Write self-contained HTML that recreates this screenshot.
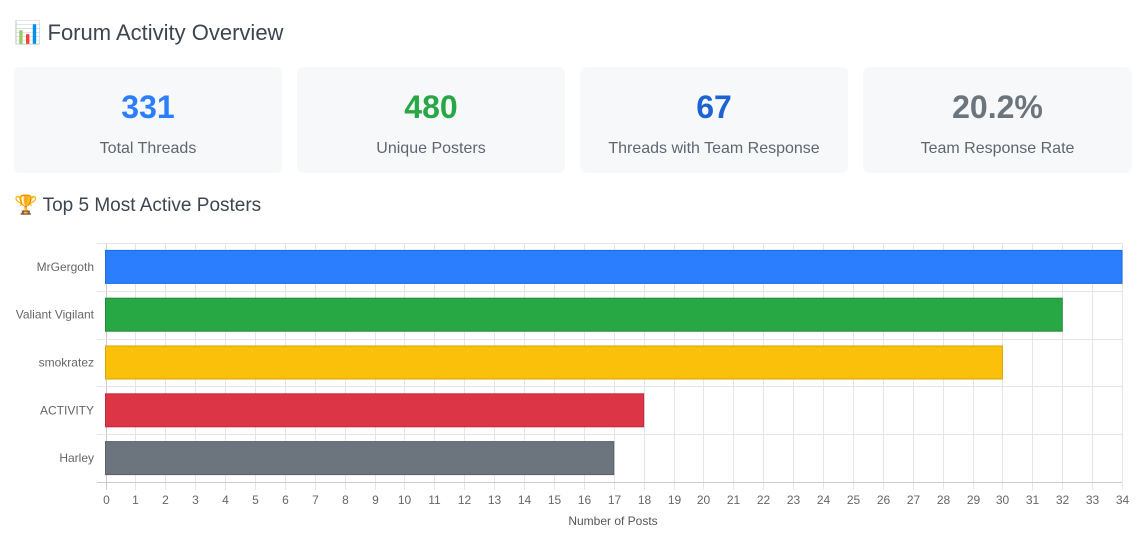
<!DOCTYPE html>
<html><head><meta charset="utf-8"><style>
body{margin:0;background:#fff;font-family:"Liberation Sans","Noto Sans CJK SC",sans-serif;color:#3d4550;width:1146px;height:543px;overflow:hidden;position:relative}
h1{position:absolute;left:14px;top:18px;margin:0;font-size:22px;font-weight:500;line-height:30px}
h2{position:absolute;left:14px;top:192px;margin:0;font-size:19px;font-weight:500;line-height:28px}
.card{position:absolute;top:67px;height:106px;width:268px;background:#f7f8fa;border-radius:6px;text-align:center}
.card .v{position:absolute;top:21px;left:0;right:0;font-size:32px;font-weight:bold;line-height:38px}
.card .l{position:absolute;top:72px;left:0;right:0;font-size:16px;color:#5f6670;line-height:20px}
</style></head><body>
<h1>📊 Forum Activity Overview</h1>
<div class="card" style="left:14px"><div class="v" style="color:#2b7fff">331</div><div class="l">Total Threads</div></div>
<div class="card" style="left:297px"><div class="v" style="color:#28a745">480</div><div class="l">Unique Posters</div></div>
<div class="card" style="left:580px"><div class="v" style="color:#1d63d4">67</div><div class="l">Threads with Team Response</div></div>
<div class="card" style="left:863px;width:269px"><div class="v" style="color:#6c757d">20.2%</div><div class="l">Team Response Rate</div></div>
<h2>🏆 Top 5 Most Active Posters</h2>
<svg width="1146" height="313" viewBox="0 230 1146 313" style="position:absolute;left:0;top:230px" font-family="Liberation Sans, sans-serif">
<g id="g" stroke="#e5e5e5" stroke-width="1"></g>
<g id="b"></g>
<g id="t" font-size="12" fill="#666"></g>
<text x="613" y="525" font-size="12" fill="#555" text-anchor="middle">Number of Posts</text>
</svg>
<script>
(function(){
var x0=105.5,u=(1122-105.5)/34,yTop=243,bh=47.8,ns="http://www.w3.org/2000/svg";
function el(p,n,a,t){var e=document.createElementNS(ns,n);for(var k in a)e.setAttribute(k,a[k]);if(t!=null)e.textContent=t;p.appendChild(e);}
var g=document.getElementById('g'),b=document.getElementById('b'),t=document.getElementById('t');
for(var i=0;i<=34;i++){var x=Math.round(x0+i*u)+0.5;el(g,'line',{x1:x,x2:x,y1:yTop,y2:490,stroke:i==0?'#ccc':'#e5e5e5'});el(t,'text',{x:x,y:504,'text-anchor':'middle'},i);}
for(var j=0;j<=5;j++){var y=Math.round(yTop+j*bh)+0.5;el(g,'line',{x1:97,x2:1122,y1:y,y2:y,stroke:j==5?'#ccc':'#e5e5e5'});}
var d=[["MrGergoth",34,"#2b7fff","#1f6be0"],["Valiant Vigilant",32,"#28a745","#1e8a38"],["smokratez",30,"#fbc00a","#d9a300"],["ACTIVITY",18,"#dc3545","#c02a3a"],["Harley",17,"#6c757d","#5a6168"]];
d.forEach(function(r,k){var yc=yTop+bh*(k+0.5);el(b,'rect',{x:x0,y:yc-16.5,width:r[1]*u,height:33,fill:r[2],stroke:r[3],'stroke-width':1});el(t,'text',{x:94,y:yc+4,'text-anchor':'end'},r[0]);});
})();
</script>
</body></html>
